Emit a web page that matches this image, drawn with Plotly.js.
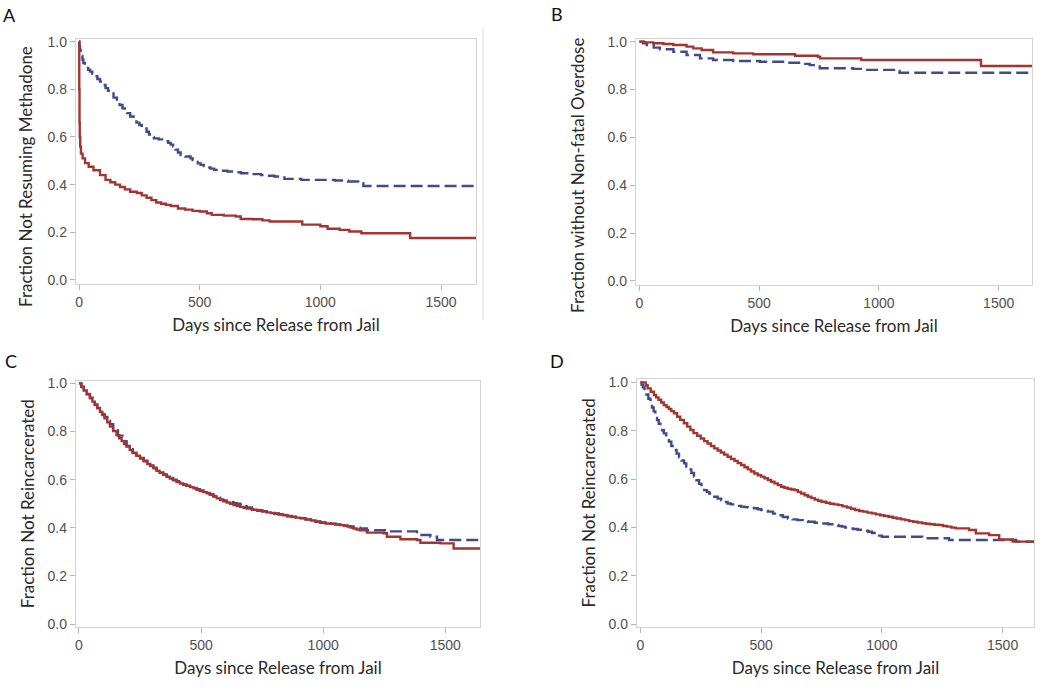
<!DOCTYPE html>
<html>
<head>
<meta charset="utf-8">
<script src="https://cdn.plot.ly/plotly-3.0.1.min.js"></script>
<style>html,body{margin:0;padding:0;background:#fff;}#chart{width:1050px;height:692px;}</style>
</head>
<body>
<div id="chart"></div>
<script>
// ---- Data ----
var panelLetters = ["A", "B", "C", "D"];
var xTitle = "Days since Release from Jail";
var yTitles = ["Fraction Not Resuming Methadone", "Fraction without Non-fatal Overdose",
               "Fraction Not Reincarcerated", "Fraction Not Reincarcerated"];
var xTickVals = [0, 500, 1000, 1500];
var yTickVals = [0.0, 0.2, 0.4, 0.6, 0.8, 1.0];
var yTickText = ["0.0", "0.2", "0.4", "0.6", "0.8", "1.0"];

// Panel A
var aRedDays = [0,1,2,3,5,8,15,25,40,60,87,110,130,150,170,190,212,240,260,280,300,320,340,360,380,410,440,470,500,530,550,600,650,670,720,760,790,925,1000,1030,1080,1120,1170,1372,1650];
var aRedSurv = [1.0,0.80,0.66,0.60,0.56,0.53,0.51,0.49,0.475,0.46,0.44,0.42,0.41,0.40,0.39,0.38,0.37,0.365,0.355,0.345,0.335,0.325,0.32,0.315,0.31,0.30,0.295,0.29,0.287,0.28,0.273,0.27,0.266,0.256,0.255,0.25,0.245,0.232,0.225,0.215,0.21,0.203,0.196,0.176,0.176];
var aBlueDays = [0,2,4,7,10,14,18,24,30,38,46,55,65,76,87,98,110,120,129,143,157,168,180,190,199,212,226,238,250,260,268,280,290,300,310,330,350,360,370,380,390,400,410,421,440,462,471,480,492,504,517,530,545,560,590,615,645,671,710,754,780,810,830,851,921,1060,1115,1157,1178,1650];
var aBlueSurv = [1.0,0.98,0.965,0.95,0.94,0.925,0.91,0.9,0.89,0.882,0.874,0.865,0.855,0.843,0.832,0.818,0.805,0.794,0.783,0.765,0.748,0.734,0.72,0.71,0.70,0.686,0.671,0.66,0.65,0.642,0.636,0.622,0.61,0.6,0.594,0.59,0.587,0.582,0.575,0.568,0.56,0.547,0.535,0.524,0.518,0.51,0.503,0.495,0.489,0.483,0.478,0.472,0.467,0.462,0.458,0.455,0.452,0.448,0.444,0.44,0.437,0.434,0.43,0.424,0.42,0.417,0.413,0.406,0.394,0.394];

// Panel B
var bRedDays = [0,20,58,100,142,197,225,260,308,392,475,650,745,755,926,1426,1650];
var bRedSurv = [1.0,0.997,0.993,0.99,0.986,0.979,0.972,0.965,0.955,0.951,0.947,0.941,0.937,0.93,0.923,0.898,0.898];
var bBlueDays = [0,15,31,60,86,142,197,253,308,392,503,614,683,711,753,892,933,1072,1086,1650];
var bBlueSurv = [1.0,0.993,0.986,0.975,0.968,0.958,0.944,0.93,0.923,0.919,0.916,0.912,0.907,0.902,0.889,0.886,0.882,0.879,0.87,0.87];

// Panel C
var cRedDays = [0,10,20,32,45,55,65,75,86,95,105,116,127,140,154,165,175,185,195,208,220,235,250,265,280,292,305,318,330,345,359,372,385,400,414,427,440,455,469,482,495,509,523,536,550,564,578,591,605,619,633,646,660,674,687,708,730,750,769,785,800,818,837,853,870,888,906,928,950,969,988,1009,1030,1050,1070,1085,1100,1112,1124,1137,1150,1179,1247,1261,1316,1384,1398,1480,1534,1650];
var cRedSurv = [1.0,0.985,0.97,0.954,0.938,0.924,0.91,0.896,0.882,0.868,0.855,0.838,0.82,0.802,0.785,0.772,0.76,0.748,0.737,0.723,0.71,0.699,0.688,0.676,0.665,0.656,0.647,0.637,0.628,0.62,0.612,0.604,0.597,0.59,0.584,0.579,0.574,0.569,0.564,0.558,0.553,0.548,0.543,0.537,0.53,0.522,0.515,0.51,0.505,0.5,0.494,0.49,0.487,0.483,0.48,0.475,0.471,0.467,0.464,0.461,0.458,0.455,0.452,0.448,0.445,0.442,0.439,0.434,0.43,0.425,0.421,0.418,0.416,0.413,0.411,0.408,0.405,0.401,0.397,0.393,0.39,0.38,0.377,0.363,0.352,0.349,0.338,0.335,0.314,0.312];
var cBlueDays = [0,10,20,32,45,55,65,75,86,95,105,116,127,140,160,178,195,208,220,235,250,265,280,292,305,318,330,345,359,372,385,400,414,427,440,455,469,482,495,509,523,536,550,564,578,591,605,619,633,646,660,674,687,708,730,750,769,785,800,818,837,853,870,888,906,928,950,969,988,1009,1030,1050,1070,1085,1100,1112,1124,1137,1150,1179,1261,1384,1439,1466,1650];
var cBlueSurv = [1.0,0.986,0.972,0.956,0.94,0.926,0.912,0.898,0.885,0.872,0.86,0.845,0.83,0.81,0.783,0.76,0.74,0.726,0.712,0.701,0.69,0.679,0.668,0.659,0.65,0.64,0.63,0.622,0.615,0.607,0.6,0.593,0.586,0.58,0.575,0.57,0.565,0.56,0.555,0.55,0.545,0.539,0.532,0.525,0.518,0.514,0.51,0.506,0.502,0.5,0.497,0.49,0.484,0.478,0.473,0.469,0.465,0.462,0.459,0.456,0.453,0.449,0.446,0.443,0.44,0.435,0.431,0.426,0.422,0.419,0.417,0.414,0.412,0.41,0.407,0.405,0.402,0.4,0.397,0.39,0.385,0.37,0.363,0.349,0.349];

// Panel D
var dRedDays = [0,14,22,30,43,56,65,75,86,97,108,118,128,139,152,165,180,194,207,220,235,250,264,278,292,306,320,333,347,361,375,390,403,417,431,445,458,472,486,500,514,528,541,555,569,583,596,610,625,639,652,665,680,694,708,722,736,750,768,785,802,819,837,855,872,889,906,923,940,958,975,993,1010,1028,1045,1062,1080,1097,1113,1130,1148,1167,1183,1200,1218,1236,1253,1270,1288,1306,1361,1389,1444,1486,1542,1650];
var dRedSurv = [1.0,1.0,0.988,0.975,0.961,0.948,0.938,0.928,0.917,0.906,0.898,0.89,0.881,0.872,0.858,0.845,0.831,0.817,0.803,0.79,0.779,0.768,0.757,0.747,0.737,0.727,0.718,0.71,0.701,0.692,0.683,0.675,0.666,0.658,0.649,0.64,0.631,0.623,0.616,0.61,0.603,0.596,0.589,0.582,0.575,0.568,0.564,0.56,0.557,0.554,0.547,0.54,0.533,0.527,0.521,0.515,0.51,0.506,0.502,0.498,0.495,0.492,0.487,0.482,0.477,0.472,0.468,0.465,0.461,0.458,0.454,0.45,0.447,0.444,0.44,0.437,0.433,0.43,0.426,0.423,0.42,0.417,0.415,0.413,0.411,0.41,0.406,0.403,0.399,0.396,0.389,0.375,0.368,0.35,0.341,0.341];
var dBlueDays = [0,5,10,17,25,33,42,48,55,62,69,76,83,90,97,107,118,128,139,150,160,170,181,190,200,211,222,232,243,253,264,275,285,295,306,320,335,348,361,375,390,403,417,431,445,458,472,486,500,514,528,549,570,590,611,630,650,672,694,722,750,778,806,820,835,848,861,880,900,922,944,960,975,988,1000,1167,1278,1556,1650];
var dBlueSurv = [1.0,0.99,0.98,0.965,0.95,0.932,0.913,0.896,0.88,0.862,0.844,0.829,0.815,0.802,0.789,0.772,0.755,0.737,0.72,0.705,0.69,0.677,0.665,0.652,0.64,0.625,0.61,0.595,0.58,0.567,0.554,0.547,0.54,0.533,0.527,0.519,0.512,0.505,0.499,0.495,0.492,0.489,0.486,0.484,0.482,0.48,0.479,0.475,0.472,0.468,0.465,0.457,0.45,0.443,0.437,0.433,0.43,0.426,0.423,0.419,0.416,0.413,0.41,0.406,0.403,0.399,0.396,0.393,0.39,0.386,0.382,0.377,0.372,0.366,0.361,0.355,0.348,0.341,0.341];

// ---- Styling ----
var RED = "#a3342f";
var BLUE = "#3f4c8c";
var FRAME = "#d4d4d4";
var TITLE_FONT = {family: "Lato, 'Open Sans', sans-serif", size: 17, color: "#2a2a2a"};
var TICK_FONT = {family: "'Liberation Sans', Arial, sans-serif", size: 14, color: "#505050"};
var LETTER_FONT = {family: "Lato, sans-serif", size: 18, color: "#111"};

function redTrace(x, y, xa, ya) {
  return {x: x, y: y, xaxis: xa, yaxis: ya, type: "scatter", mode: "lines",
          line: {shape: "hv", color: RED, width: 2.4}, hoverinfo: "skip", showlegend: false};
}
function blueTrace(x, y, xa, ya) {
  return {x: x, y: y, xaxis: xa, yaxis: ya, type: "scatter", mode: "lines",
          line: {shape: "hv", color: BLUE, width: 2.4, dash: "12px,5px"}, hoverinfo: "skip", showlegend: false};
}

var data = [
  blueTrace(aBlueDays, aBlueSurv, "x", "y"),
  redTrace(aRedDays, aRedSurv, "x", "y"),
  blueTrace(bBlueDays, bBlueSurv, "x2", "y2"),
  redTrace(bRedDays, bRedSurv, "x2", "y2"),
  blueTrace(cBlueDays, cBlueSurv, "x3", "y3"),
  redTrace(cRedDays, cRedSurv, "x3", "y3"),
  blueTrace(dBlueDays, dBlueSurv, "x4", "y4"),
  redTrace(dRedDays, dRedSurv, "x4", "y4")
];

function xAxis(domain, anchor, range) {
  return {domain: domain, anchor: anchor, range: range, tickvals: xTickVals,
    showgrid: false, zeroline: false, showline: true, mirror: true, linecolor: FRAME, linewidth: 1.2,
    ticks: "outside", ticklen: 5, tickcolor: "#b5b5b5", tickfont: TICK_FONT, fixedrange: true,
    title: {text: xTitle, font: TITLE_FONT, standoff: 10}};
}
function yAxis(domain, anchor, range, title) {
  var ax = {domain: domain, anchor: anchor, range: range, tickvals: yTickVals, ticktext: yTickText,
    showgrid: false, zeroline: false, showline: true, mirror: true, linecolor: FRAME, linewidth: 1.2,
    ticks: "outside", ticklen: 5, tickcolor: "#b5b5b5", tickfont: TICK_FONT, fixedrange: true};
  if (title) ax.title = {text: title, font: TITLE_FONT, standoff: 8};
  return ax;
}

var W = 1050, H = 692;
function px(v) { return v / W; }
function py(v) { return 1 - v / H; }
function label(text, x, y, font, angle) {
  return {text: text, x: px(x), y: py(y), xref: "paper", yref: "paper", showarrow: false,
          xanchor: "center", yanchor: "middle", textangle: angle || 0, font: font};
}

var layout = {
  width: W, height: H,
  margin: {l: 0, r: 0, t: 0, b: 0},
  paper_bgcolor: "#fff", plot_bgcolor: "#fff",
  showlegend: false,
  xaxis:  xAxis([px(76), px(476)], "y", [-12.5, 1645]),
  yaxis:  yAxis([py(284), py(39)], "x", [-0.017, 1.011], null),
  xaxis2: xAxis([px(636), px(1032)], "y2", [-14, 1639]),
  yaxis2: yAxis([py(285), py(39)], "x2", [-0.017, 1.011], null),
  xaxis3: xAxis([px(76), px(480)], "y3", [-12, 1642]),
  yaxis3: yAxis([py(626.7), py(380.7)], "x3", [-0.011, 1.011], yTitles[2]),
  xaxis4: xAxis([px(637), px(1034)], "y4", [-14, 1630]),
  yaxis4: yAxis([py(626.7), py(379)], "x4", [-0.011, 1.014], yTitles[3]),
  annotations: [
    label(panelLetters[0], 9, 15, LETTER_FONT),
    label(panelLetters[1], 557, 14, LETTER_FONT),
    label(panelLetters[2], 11, 361, LETTER_FONT),
    label(panelLetters[3], 557, 361, LETTER_FONT),
    label(yTitles[0], 25, 177, TITLE_FONT, -90),
    label(yTitles[1], 577, 176, TITLE_FONT, -90)
  ],
  shapes: [
    {type: "line", xref: "paper", yref: "paper", x0: px(483), x1: px(483), y0: py(320), y1: py(28), line: {color: "#dcdcdc", width: 1}}
  ]
};

Plotly.newPlot("chart", data, layout, {displayModeBar: false, staticPlot: true});
</script>
</body>
</html>
